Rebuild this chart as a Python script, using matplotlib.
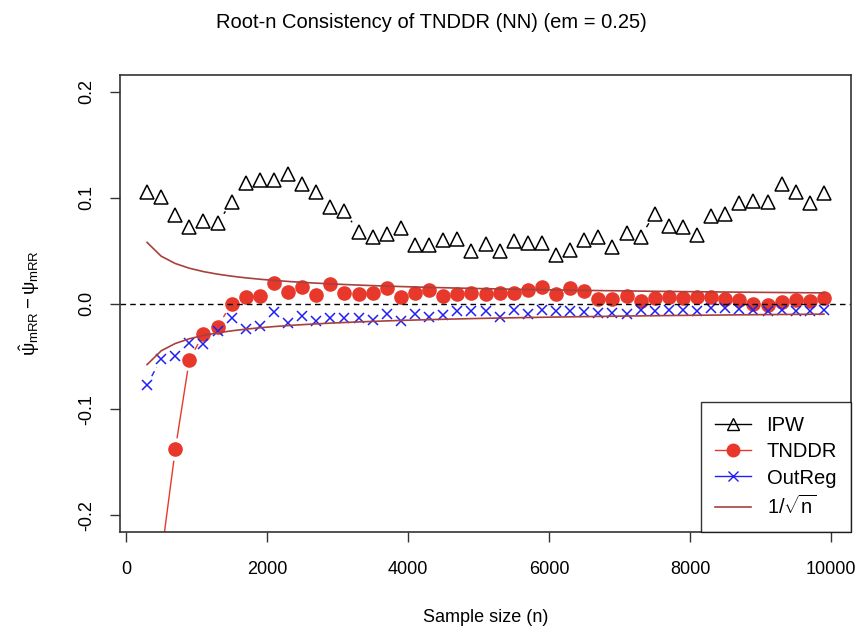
import numpy as np
import matplotlib
matplotlib.use("Agg")
import matplotlib.pyplot as plt
from matplotlib.lines import Line2D

plt.rcParams['font.family'] = ['Liberation Sans', 'DejaVu Sans']
plt.rcParams['mathtext.fontset'] = 'custom'
plt.rcParams['mathtext.rm'] = 'Liberation Sans'
plt.rcParams['mathtext.it'] = 'Liberation Sans'
plt.rcParams['mathtext.bf'] = 'Liberation Sans'

# sample sizes
n = list(range(300, 10000, 200))

ipw = [0.105, 0.101, 0.084, 0.072, 0.078, 0.076, 0.096, 0.114, 0.117, 0.117,
       0.122, 0.113, 0.105, 0.091, 0.087, 0.068, 0.063, 0.066, 0.071, 0.055,
       0.055, 0.060, 0.061, 0.050, 0.056, 0.050, 0.059, 0.057, 0.057, 0.046,
       0.051, 0.060, 0.063, 0.053, 0.067, 0.063, 0.085, 0.073, 0.072, 0.065,
       0.083, 0.085, 0.095, 0.097, 0.096, 0.113, 0.105, 0.095, 0.104]

tnddr = [-0.320, -0.240, -0.138, -0.053, -0.029, -0.022, 0.000, 0.006, 0.007, 0.019,
         0.011, 0.016, 0.008, 0.018, 0.010, 0.009, 0.010, 0.015, 0.006, 0.010,
         0.013, 0.007, 0.009, 0.010, 0.009, 0.010, 0.010, 0.013, 0.016, 0.009,
         0.015, 0.012, 0.004, 0.004, 0.007, 0.002, 0.005, 0.006, 0.005, 0.006,
         0.006, 0.004, 0.003, 0.000, -0.001, 0.001, 0.003, 0.002, 0.005]

outreg = [-0.077, -0.052, -0.050, -0.037, -0.038, -0.026, -0.014, -0.024, -0.021, -0.008,
          -0.018, -0.012, -0.017, -0.014, -0.014, -0.014, -0.016, -0.010, -0.017, -0.010,
          -0.013, -0.011, -0.007, -0.007, -0.007, -0.013, -0.006, -0.010, -0.006, -0.007,
          -0.007, -0.008, -0.009, -0.009, -0.010, -0.006, -0.007, -0.006, -0.006, -0.007,
          -0.004, -0.004, -0.005, -0.006, -0.007, -0.006, -0.007, -0.007, -0.006]

RED = '#E8382B'
BLUE = '#2020F0'
BROWN = '#A8403C'

fig = plt.figure(figsize=(8.63, 6.37), dpi=100)
ax = fig.add_axes([120 / 863, 1 - 532 / 637, 731 / 863, 457 / 637])
ax.set_xlim(300 - 384, 9900 + 384)
ax.set_ylim(-0.216, 0.216)


def type_b(x, y, gap_px, **kw):
    # R style type="b": segments between points with a gap around each point
    pts = ax.transData.transform(np.column_stack([x, y]))
    inv = ax.transData.inverted()
    for p0, p1 in zip(pts[:-1], pts[1:]):
        d = p1 - p0
        L = np.hypot(*d)
        if L <= 2 * gap_px:
            continue
        u = d / L
        a = inv.transform(p0 + u * gap_px)
        b = inv.transform(p1 - u * gap_px)
        ax.plot([a[0], b[0]], [a[1], b[1]], **kw)


type_b(n, ipw, 12, color='black', lw=1.0)
type_b(n, tnddr, 12, color=RED, lw=1.0)
type_b(n, outreg, 10, color=BLUE, lw=1.0, ls=(0, (4, 3)))

ax.plot(n, ipw, ls='none', marker='^', ms=9.5, mfc='none', mec='black', mew=1.1)
ax.plot(n, tnddr, ls='none', marker='o', ms=9.5, mfc=RED, mec=RED)
ax.plot(n, outreg, ls='none', marker='x', ms=7.5, mec=BLUE, mew=1.1)

nn = np.array(n)
ax.plot(nn, 1 / np.sqrt(nn), color=BROWN, lw=1.2)
ax.plot(nn, -1 / np.sqrt(nn), color=BROWN, lw=1.2)
ax.axhline(0, color='black', lw=1.0, ls=(0, (4, 3)))

ax.set_xticks([0, 2000, 4000, 6000, 8000, 10000])
ax.set_yticks([-0.2, -0.1, 0.0, 0.1, 0.2])
ax.set_yticklabels(['-0.2', '-0.1', '0.0', '0.1', '0.2'], rotation=90, va='center')
ax.tick_params(axis='both', labelsize=13, length=7, width=1.0, color='#333333')
ax.tick_params(axis='x', pad=14)
ax.tick_params(axis='y', pad=11)
for s in ax.spines.values():
    s.set_color('#333333')
    s.set_linewidth(1.2)

fig.suptitle('Root-n Consistency of TNDDR (NN) (em = 0.25)', fontsize=14.5,
             x=0.5, y=1 - 22 / 637, va='center')
ax.set_xlabel('Sample size (n)', fontsize=13, va='center')
ax.xaxis.set_label_coords(0.5, (532 - 618) / 457)
ax.set_ylabel(r'$\hat{\psi}_{\mathrm{mRR}} - \psi_{\mathrm{mRR}}$', fontsize=13.5, va='center')
ax.yaxis.set_label_coords((30 - 120) / 731, 0.5)

handles = [
    Line2D([], [], color='black', lw=1.0, marker='^', ms=9, mfc='none', mec='black'),
    Line2D([], [], color=RED, lw=1.0, marker='o', ms=9, mfc=RED, mec=RED),
    Line2D([], [], color=BLUE, lw=1.0, marker='x', ms=7.5, mec=BLUE),
    Line2D([], [], color=BROWN, lw=1.2),
]
labels = ['IPW', 'TNDDR', 'OutReg', r'$1/\sqrt{n}$']
leg = ax.legend(handles, labels, loc='lower right', fontsize=14.5, frameon=True,
                fancybox=False, edgecolor='black', borderaxespad=0,
                handlelength=1.8, handletextpad=0.75, labelspacing=0.35, borderpad=0.7)
leg.get_frame().set_linewidth(1.0)

fig.savefig('out.png', dpi=100)
